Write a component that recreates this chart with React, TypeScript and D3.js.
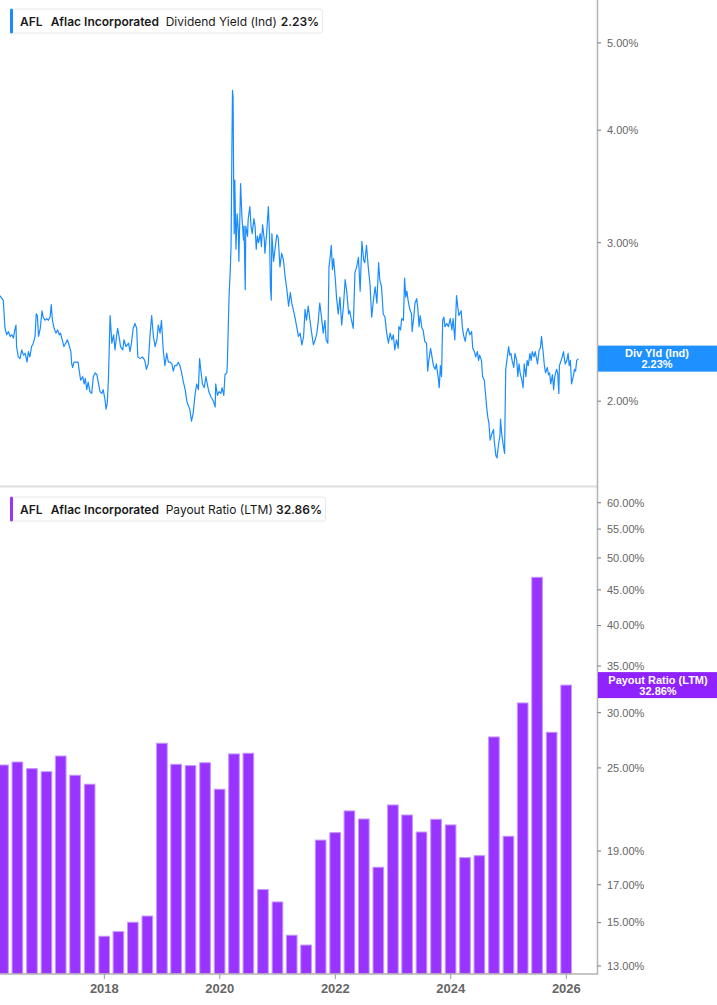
import React from "react";
import * as d3 from "d3";

// ---- data ----
// dividend yield (ind), [decimal year, %]
const divYield: [number, number][] = [
	[2016.19, 2.62], [2016.25, 2.59], [2016.28, 2.41], [2016.31, 2.37], [2016.34, 2.39],
	[2016.37, 2.36], [2016.4, 2.37], [2016.425, 2.35], [2016.45, 2.4], [2016.47, 2.43],
	[2016.48, 2.3], [2016.51, 2.24], [2016.54, 2.23], [2016.57, 2.28], [2016.6, 2.25],
	[2016.63, 2.26], [2016.66, 2.21], [2016.685, 2.27], [2016.71, 2.24], [2016.74, 2.3],
	[2016.77, 2.32], [2016.8, 2.36], [2016.82, 2.5], [2016.84, 2.49], [2016.86, 2.36],
	[2016.89, 2.41], [2016.92, 2.52], [2016.94, 2.48], [2016.97, 2.46], [2017.0, 2.47],
	[2017.03, 2.46], [2017.06, 2.48], [2017.08, 2.56], [2017.1, 2.46], [2017.13, 2.41],
	[2017.16, 2.38], [2017.19, 2.4], [2017.22, 2.37], [2017.24, 2.38], [2017.27, 2.34],
	[2017.3, 2.3], [2017.33, 2.32], [2017.36, 2.34], [2017.395, 2.3], [2017.42, 2.27],
	[2017.435, 2.2], [2017.45, 2.18], [2017.475, 2.21], [2017.51, 2.21], [2017.545, 2.21],
	[2017.57, 2.15], [2017.59, 2.11], [2017.625, 2.13], [2017.65, 2.09], [2017.67, 2.12],
	[2017.695, 2.06], [2017.72, 2.1], [2017.75, 2.05], [2017.78, 2.04], [2017.81, 2.13],
	[2017.84, 2.15], [2017.87, 2.14], [2017.9, 2.09], [2017.925, 2.05], [2017.955, 2.04],
	[2017.98, 2.06], [2018.01, 2.01], [2018.03, 1.96], [2018.05, 1.99], [2018.07, 2.11],
	[2018.09, 2.36], [2018.1, 2.49], [2018.13, 2.32], [2018.16, 2.37], [2018.185, 2.28],
	[2018.21, 2.36], [2018.23, 2.41], [2018.26, 2.35], [2018.28, 2.3], [2018.32, 2.28],
	[2018.34, 2.34], [2018.375, 2.3], [2018.42, 2.32], [2018.445, 2.27], [2018.47, 2.32],
	[2018.5, 2.41], [2018.53, 2.44], [2018.56, 2.41], [2018.58, 2.24], [2018.62, 2.23],
	[2018.66, 2.24], [2018.7, 2.22], [2018.73, 2.17], [2018.76, 2.2], [2018.79, 2.36],
	[2018.82, 2.49], [2018.85, 2.36], [2018.88, 2.3], [2018.91, 2.34], [2018.935, 2.43],
	[2018.965, 2.38], [2018.99, 2.46], [2019.02, 2.28], [2019.05, 2.19], [2019.08, 2.26],
	[2019.11, 2.21], [2019.14, 2.21], [2019.17, 2.2], [2019.195, 2.16], [2019.22, 2.19],
	[2019.25, 2.19], [2019.28, 2.21], [2019.31, 2.19], [2019.34, 2.15], [2019.37, 2.1],
	[2019.4, 2.06], [2019.43, 2.0], [2019.45, 1.98], [2019.48, 1.96], [2019.51, 1.9],
	[2019.54, 1.94], [2019.57, 2.03], [2019.6, 2.09], [2019.63, 2.06], [2019.65, 2.23],
	[2019.67, 2.17], [2019.7, 2.09], [2019.73, 2.07], [2019.76, 2.13], [2019.79, 2.08],
	[2019.81, 2.05], [2019.85, 2.02], [2019.89, 2.0], [2019.92, 1.97], [2019.93, 2.09],
	[2019.96, 2.03], [2019.99, 2.05], [2020.02, 2.04], [2020.04, 2.07], [2020.07, 2.03],
	[2020.09, 2.14], [2020.12, 2.15], [2020.13, 2.19], [2020.16, 2.61], [2020.18, 2.78],
	[2020.195, 2.97], [2020.21, 3.83], [2020.22, 4.43], [2020.23, 4.36], [2020.24, 3.52],
	[2020.25, 3.07], [2020.26, 3.52], [2020.28, 2.95], [2020.3, 3.23], [2020.32, 3.1],
	[2020.33, 2.86], [2020.35, 3.26], [2020.36, 3.49], [2020.38, 3.23], [2020.41, 3.02],
	[2020.42, 3.13], [2020.44, 2.66], [2020.45, 3.13], [2020.48, 3.05], [2020.49, 3.18],
	[2020.52, 3.29], [2020.54, 3.13], [2020.56, 3.07], [2020.59, 3.19], [2020.61, 3.13],
	[2020.63, 2.95], [2020.65, 3.05], [2020.67, 3.0], [2020.7, 3.07], [2020.72, 2.97],
	[2020.74, 3.14], [2020.77, 3.02], [2020.78, 2.92], [2020.81, 3.07], [2020.84, 3.29],
	[2020.86, 3.05], [2020.875, 2.68], [2020.89, 2.59], [2020.9, 3.07], [2020.93, 2.86],
	[2020.96, 2.97], [2020.985, 3.06], [2021.01, 3.04], [2021.04, 2.82], [2021.07, 2.92],
	[2021.1, 2.87], [2021.13, 2.75], [2021.16, 2.66], [2021.19, 2.55], [2021.22, 2.64],
	[2021.245, 2.57], [2021.27, 2.53], [2021.3, 2.48], [2021.33, 2.42], [2021.36, 2.36],
	[2021.39, 2.38], [2021.42, 2.31], [2021.45, 2.36], [2021.475, 2.53], [2021.5, 2.46],
	[2021.53, 2.55], [2021.56, 2.46], [2021.59, 2.38], [2021.62, 2.31], [2021.65, 2.34],
	[2021.68, 2.38], [2021.7, 2.44], [2021.73, 2.57], [2021.76, 2.48], [2021.79, 2.38],
	[2021.82, 2.46], [2021.84, 2.34], [2021.87, 2.32], [2021.89, 2.82], [2021.91, 2.89],
	[2021.93, 2.98], [2021.95, 2.8], [2021.97, 2.88], [2022.0, 2.73], [2022.02, 2.61],
	[2022.05, 2.5], [2022.08, 2.61], [2022.11, 2.43], [2022.14, 2.55], [2022.17, 2.73],
	[2022.2, 2.64], [2022.23, 2.5], [2022.25, 2.52], [2022.28, 2.46], [2022.31, 2.41],
	[2022.34, 2.78], [2022.37, 2.82], [2022.4, 2.89], [2022.43, 2.65], [2022.46, 3.01],
	[2022.49, 2.87], [2022.51, 2.85], [2022.54, 2.98], [2022.57, 2.82], [2022.6, 2.7],
	[2022.63, 2.48], [2022.66, 2.59], [2022.69, 2.68], [2022.72, 2.57], [2022.75, 2.85],
	[2022.77, 2.73], [2022.8, 2.68], [2022.83, 2.5], [2022.86, 2.48], [2022.89, 2.38],
	[2022.92, 2.32], [2022.95, 2.38], [2022.98, 2.34], [2023.005, 2.37], [2023.03, 2.28],
	[2023.06, 2.34], [2023.09, 2.29], [2023.1, 2.42], [2023.13, 2.4], [2023.15, 2.47],
	[2023.18, 2.46], [2023.2, 2.74], [2023.22, 2.61], [2023.24, 2.65], [2023.26, 2.59],
	[2023.29, 2.53], [2023.32, 2.5], [2023.33, 2.39], [2023.36, 2.48], [2023.38, 2.57],
	[2023.41, 2.6], [2023.43, 2.53], [2023.45, 2.42], [2023.47, 2.49], [2023.5, 2.41],
	[2023.52, 2.4], [2023.55, 2.33], [2023.58, 2.32], [2023.6, 2.16], [2023.62, 2.22],
	[2023.65, 2.29], [2023.67, 2.25], [2023.7, 2.19], [2023.73, 2.17], [2023.75, 2.2],
	[2023.78, 2.13], [2023.8, 2.07], [2023.82, 2.19], [2023.84, 2.13], [2023.86, 2.46],
	[2023.88, 2.48], [2023.9, 2.42], [2023.93, 2.44], [2023.96, 2.42], [2023.99, 2.47],
	[2024.02, 2.4], [2024.04, 2.47], [2024.07, 2.34], [2024.1, 2.62], [2024.12, 2.55],
	[2024.14, 2.49], [2024.18, 2.52], [2024.2, 2.42], [2024.22, 2.37], [2024.25, 2.33],
	[2024.27, 2.38], [2024.3, 2.41], [2024.33, 2.37], [2024.36, 2.39], [2024.38, 2.29],
	[2024.41, 2.27], [2024.43, 2.24], [2024.46, 2.27], [2024.48, 2.22], [2024.5, 2.25],
	[2024.53, 2.22], [2024.55, 2.13], [2024.58, 2.11], [2024.6, 2.04], [2024.62, 1.97],
	[2024.64, 1.92], [2024.66, 1.89], [2024.68, 1.81], [2024.71, 1.84], [2024.74, 1.86],
	[2024.75, 1.81], [2024.78, 1.74], [2024.8, 1.73], [2024.82, 1.78], [2024.85, 1.83],
	[2024.86, 1.91], [2024.88, 1.84], [2024.9, 1.8], [2024.93, 1.75], [2024.94, 1.96],
	[2024.95, 2.17], [2024.97, 2.22], [2025.0, 2.3], [2025.02, 2.25], [2025.04, 2.26],
	[2025.06, 2.22], [2025.09, 2.18], [2025.11, 2.26], [2025.14, 2.22], [2025.16, 2.13],
	[2025.18, 2.2], [2025.2, 2.15], [2025.23, 2.11], [2025.25, 2.07], [2025.27, 2.2],
	[2025.3, 2.13], [2025.32, 2.22], [2025.34, 2.19], [2025.37, 2.26], [2025.39, 2.22],
	[2025.41, 2.27], [2025.44, 2.24], [2025.46, 2.27], [2025.49, 2.22], [2025.5, 2.2],
	[2025.53, 2.28], [2025.55, 2.29], [2025.57, 2.36], [2025.6, 2.26], [2025.62, 2.19],
	[2025.64, 2.15], [2025.67, 2.18], [2025.69, 2.14], [2025.71, 2.15], [2025.73, 2.09],
	[2025.76, 2.14], [2025.78, 2.06], [2025.8, 2.13], [2025.83, 2.17], [2025.85, 2.15],
	[2025.87, 2.04], [2025.88, 2.19], [2025.91, 2.22], [2025.93, 2.24], [2025.95, 2.27],
	[2025.98, 2.2], [2026.01, 2.22], [2026.03, 2.26], [2026.05, 2.19], [2026.07, 2.22],
	[2026.09, 2.09], [2026.12, 2.13], [2026.14, 2.17], [2026.16, 2.16], [2026.18, 2.22],
	[2026.21, 2.23],
];

// payout ratio (LTM), one bar per quarter end
const quarters = [
	"2016Q1", "2016Q2", "2016Q3", "2016Q4", "2017Q1", "2017Q2", "2017Q3", "2017Q4",
	"2018Q1", "2018Q2", "2018Q3", "2018Q4", "2019Q1", "2019Q2", "2019Q3", "2019Q4",
	"2020Q1", "2020Q2", "2020Q3", "2020Q4", "2021Q1", "2021Q2", "2021Q3", "2021Q4",
	"2022Q1", "2022Q2", "2022Q3", "2022Q4", "2023Q1", "2023Q2", "2023Q3", "2023Q4",
	"2024Q1", "2024Q2", "2024Q3", "2024Q4", "2025Q1", "2025Q2", "2025Q3", "2025Q4",
];
const payoutRatio = [
	25.24, 25.49, 24.94, 24.69, 26.0, 24.4, 23.69, 14.34,
	14.56, 15.02, 15.33, 27.12, 25.3, 25.19, 25.43, 23.3,
	26.18, 26.24, 16.73, 16.06, 14.39, 13.93, 19.7, 20.19,
	21.69, 21.12, 18.01, 22.12, 21.4, 20.23, 21.1, 20.71,
	18.59, 18.71, 27.69, 19.95, 30.98, 46.91, 28.12, 32.86,
];

const yieldTicks = [2, 3, 4, 5];
const payoutTicks = [13, 15, 17, 19, 25, 30, 35, 40, 45, 50, 55, 60];
const yearTicks = [2018, 2020, 2022, 2024, 2026];
const lastYield = 2.23;
const lastPayout = 32.86;

// ---- layout ----
const W = 717;
const H = 1005;
const axisX = 597.5;
const topBottom = 486;
const botTop = 487;
const baseY = 974;

const BLUE = "#1a8cff";
const PURPLE = "#9933ff";

const fromYear = (t: number) => {
	const y = Math.floor(t);
	const s = Date.UTC(y, 0, 1);
	const e = Date.UTC(y + 1, 0, 1);
	return new Date(s + (t - y) * (e - s));
};
const quarterEnd = (q: string) => {
	const y = +q.slice(0, 4);
	const n = +q.slice(5);
	return new Date(Date.UTC(y, n * 3, 0));
};

const pct = (v: number) => d3.format(".2f")(v) + "%";

const Legend: React.FC<{ y: number; w: number; color: string; metric: string; value: string; valueX: number }> = ({ y, w, color, metric, value, valueX }) => (
	<g transform={`translate(10,${y})`}>
		<rect x={0.5} y={0.5} width={w} height={24} rx={3} fill="#fff" stroke="#e8e8e8" />
		<rect x={0} y={0} width={3} height={25} rx={1.5} fill={color} />
		<g fontFamily="Inter, 'Noto Sans', sans-serif" fontSize={12} fill="#1a1a1a">
			<text x={10} y={17} fontWeight={600}>AFL</text>
			<text x={40.7} y={17} fontWeight={600}>Aflac Incorporated</text>
			<text x={155.7} y={17}>{metric}</text>
			<text x={valueX} y={17} fontWeight={600}>{value}</text>
		</g>
	</g>
);

export default function App() {
	const x = d3.scaleUtc().domain([fromYear(2016.194), fromYear(2026.54)]).range([0, axisX]);
	const yTop = d3.scaleLog().domain([1.61, 5.58]).range([topBottom, 0]);
	const yBot = d3.scaleLog().domain([12.66, 63.2]).range([baseY, botTop]);

	const line = d3
		.line<[number, number]>()
		.x((d) => x(fromYear(d[0])))
		.y((d) => yTop(d[1]));

	const step = x(quarterEnd("2018Q2")) - x(quarterEnd("2018Q1"));
	const barW = step * 0.74;

	return (
		<svg width={W} height={H} style={{ position: "absolute", left: 0, top: 0, background: "#fff" }}>
			<defs>
				<clipPath id="clipTop">
					<rect x={0} y={0} width={axisX} height={topBottom} />
				</clipPath>
				<clipPath id="clipBot">
					<rect x={0} y={botTop} width={axisX} height={baseY - botTop} />
				</clipPath>
			</defs>

			{/* pane separator */}
			<line x1={0} x2={axisX} y1={486.5} y2={486.5} stroke="#dedede" strokeWidth={2} />

			{/* bars */}
			<g clipPath="url(#clipBot)">
				{quarters.map((q, i) => {
					const cx = x(quarterEnd(q));
					const yv = yBot(payoutRatio[i]);
					return (
						<rect
							key={q}
							x={cx - barW / 2}
							y={yv}
							width={barW}
							height={baseY - yv}
							fill={PURPLE}
							stroke="#c596ff"
							strokeWidth={1}
						/>
					);
				})}
			</g>

			{/* yield line */}
			<g clipPath="url(#clipTop)">
				<path d={line(divYield) || ""} fill="none" stroke={BLUE} strokeWidth={1.2} strokeLinejoin="round" />
			</g>

			{/* axes */}
			<line x1={axisX} x2={axisX} y1={0} y2={baseY + 0.5} stroke="#b3b3b3" strokeWidth={1.5} />
			<line x1={0} x2={axisX} y1={baseY} y2={baseY} stroke="#b3b3b3" strokeWidth={1.5} />

			<g fontFamily="'Liberation Sans', Arial, sans-serif" fontSize={11} fill="#666">
				{yieldTicks.map((t) => (
					<g key={"y" + t} transform={`translate(0,${yTop(t)})`}>
						<line x1={axisX} x2={axisX + 3.5} stroke="#777" strokeWidth={1} />
						<text x={607} dy="0.35em">{pct(t)}</text>
					</g>
				))}
				{payoutTicks.map((t) => (
					<g key={"p" + t} transform={`translate(0,${yBot(t)})`}>
						<line x1={axisX} x2={axisX + 3.5} stroke="#777" strokeWidth={1} />
						<text x={607} dy="0.35em">{pct(t)}</text>
					</g>
				))}
			</g>

			<g fontFamily="'Liberation Sans', Arial, sans-serif" fontSize={13} fontWeight="bold" fill="#666">
				{yearTicks.map((yr) => {
					const xx = x(fromYear(yr));
					return (
						<g key={yr}>
							<line x1={xx} x2={xx} y1={baseY} y2={baseY + 5} stroke="#999" strokeWidth={1} />
							<text x={xx} y={993} textAnchor="middle">{yr}</text>
						</g>
					);
				})}
			</g>

			{/* last value flags */}
			<g fontFamily="'Liberation Sans', Arial, sans-serif" fontSize={11} fontWeight="bold" fill="#fff" textAnchor="middle">
				<rect x={axisX + 0.5} y={yTop(lastYield) - 13} width={W - axisX} height={26} fill="#1e90ff" />
				<text x={657} y={yTop(lastYield) - 1.5}>Div Yld (Ind)</text>
				<text x={657} y={yTop(lastYield) + 9.5}>{pct(lastYield)}</text>
				<rect x={axisX + 0.5} y={yBot(lastPayout) - 13} width={W - axisX} height={26} fill="#8f22ff" />
				<text x={658} y={yBot(lastPayout) - 1.5}>Payout Ratio (LTM)</text>
				<text x={658} y={yBot(lastPayout) + 9.5}>{pct(lastPayout)}</text>
			</g>

			{/* legends */}
			<Legend y={8.5} w={312} color={BLUE} metric="Dividend Yield (Ind)" value={pct(lastYield)} valueX={270.7} />
			<Legend y={496.5} w={315} color={PURPLE} metric="Payout Ratio (LTM)" value={pct(lastPayout)} valueX={266} />
		</svg>
	);
}
